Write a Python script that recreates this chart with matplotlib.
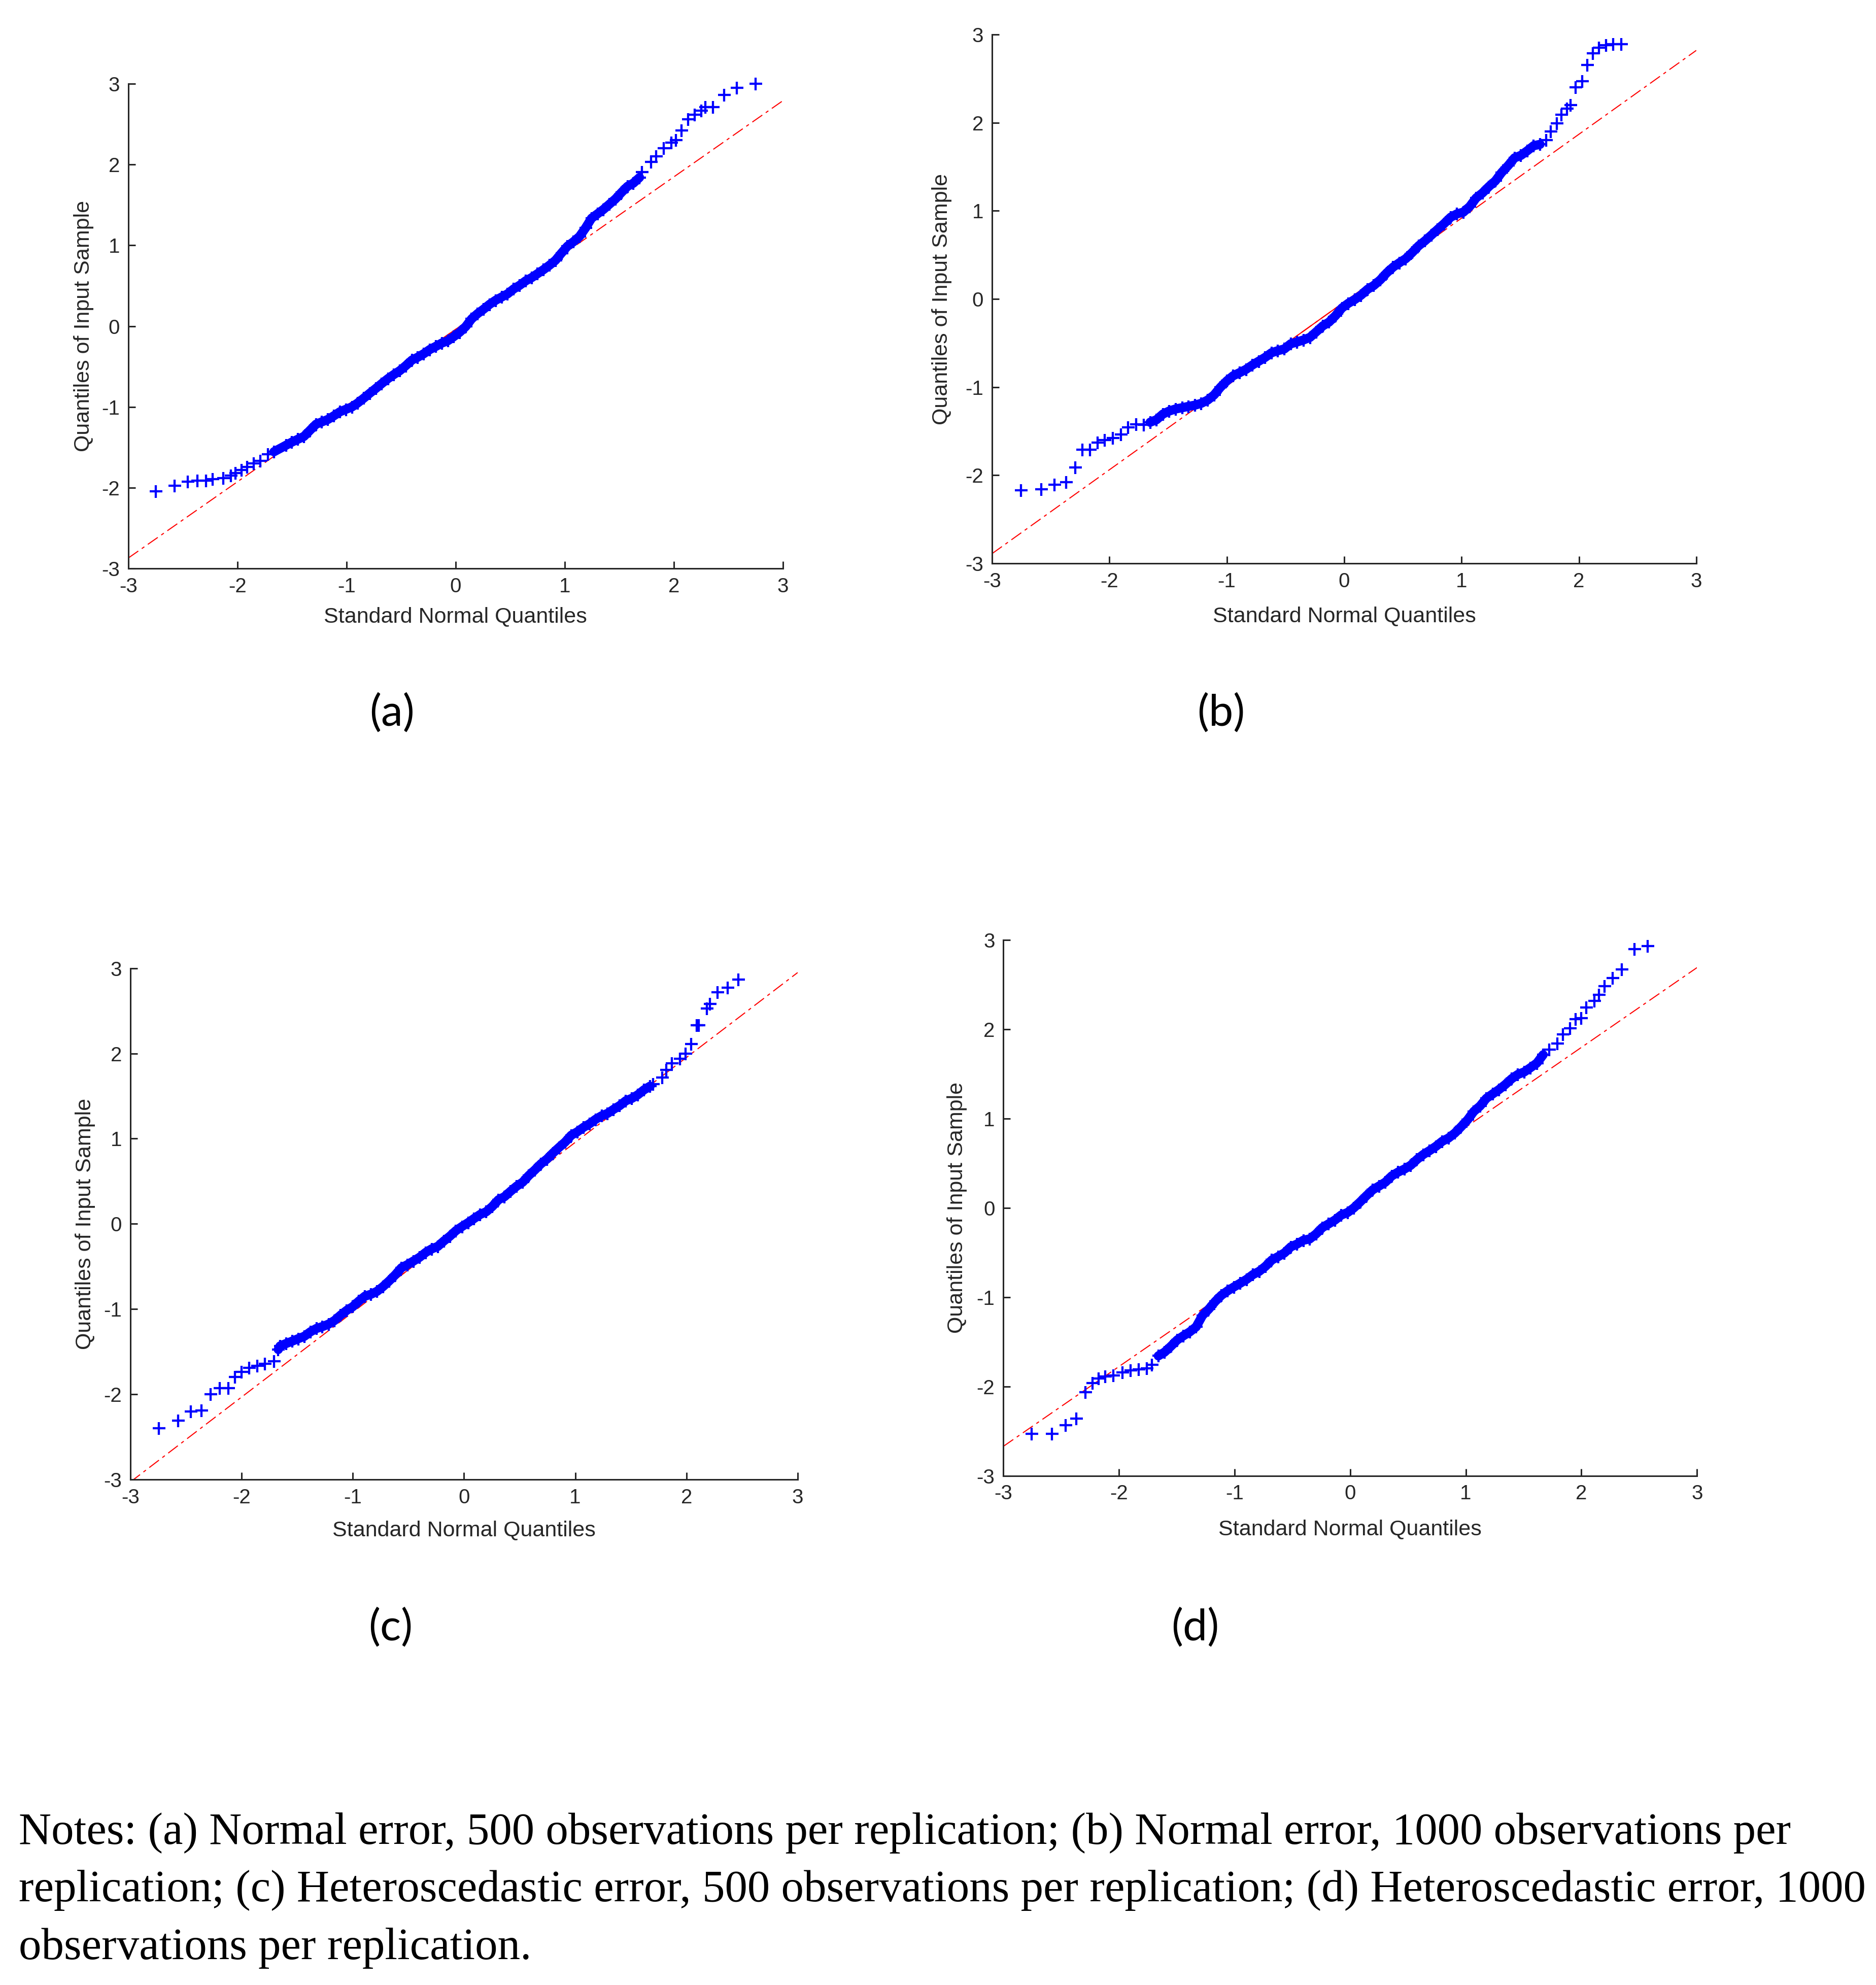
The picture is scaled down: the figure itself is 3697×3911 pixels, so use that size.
import matplotlib.pyplot as plt
import numpy as np

# (a) normal error, 500 obs per replication
a_x = [-2.748, -2.576, -2.457, -2.366, -2.29, -2.226, -2.13, -2.06, -2.02, -1.96, -1.91, -1.85, -1.79,
       -1.72, -1.665, -1.555, -1.50, -1.445, -1.39, -1.335, -1.28, -1.226, -1.17, -1.116, -1.06, -1.006,
       -0.95, -0.896, -0.84, -0.786, -0.73, -0.676, -0.62, -0.567, -0.51, -0.457, -0.40, -0.347, -0.29,
       -0.237, -0.18, -0.127, -0.07, -0.017, 0.038, 0.093, 0.147, 0.202, 0.257, 0.312, 0.367, 0.422,
       0.477, 0.532, 0.587, 0.642, 0.697, 0.752, 0.807, 0.862, 0.916, 0.971, 1.026, 1.081, 1.136, 1.191,
       1.246, 1.301, 1.356, 1.411, 1.466, 1.521, 1.576, 1.63, 1.686,
       1.71, 1.79, 1.84, 1.91, 1.98, 2.02, 2.07, 2.13, 2.19, 2.25, 2.29, 2.36, 2.46, 2.58, 2.75]
a_y = [-2.047, -1.974, -1.925, -1.915, -1.911, -1.896, -1.88, -1.85, -1.82, -1.78, -1.74, -1.70, -1.665,
       -1.585, -1.555, -1.475, -1.435, -1.40, -1.365, -1.29, -1.215, -1.185, -1.155, -1.11, -1.06, -1.03,
       -1.00, -0.95, -0.89, -0.83, -0.77, -0.71, -0.65, -0.60, -0.55, -0.49, -0.42, -0.385, -0.34,
       -0.29, -0.25, -0.21, -0.18, -0.13, -0.075, -0.005, 0.09, 0.155, 0.21, 0.27, 0.32, 0.36,
       0.40, 0.46, 0.505, 0.56, 0.60, 0.65, 0.70, 0.755, 0.815, 0.905, 0.99, 1.045, 1.11, 1.215,
       1.335, 1.39, 1.445, 1.51, 1.575, 1.655, 1.73, 1.77, 1.84,
       1.91, 2.03, 2.10, 2.20, 2.27, 2.30, 2.42, 2.56, 2.62, 2.67, 2.71, 2.71, 2.865, 2.95, 3.0]
a_ref = [-2.87, 2.79]   # reference line at x = -3 and x = 3

# (b) normal error, 1000 obs per replication
b_x = [-2.753, -2.58, -2.466, -2.37, -2.29, -2.23, -2.165, -2.10, -2.04, -1.97, -1.90, -1.84, -1.77,
       -1.707, -1.653, -1.598, -1.544, -1.489, -1.435, -1.38, -1.326, -1.271, -1.217, -1.162, -1.108,
       -1.054, -0.999, -0.945, -0.89, -0.836, -0.781, -0.727, -0.672, -0.618, -0.564, -0.509, -0.455,
       -0.40, -0.346, -0.291, -0.237, -0.182, -0.128, -0.074, -0.019, 0.035, 0.09, 0.144, 0.199, 0.253,
       0.308, 0.362, 0.417, 0.471, 0.525, 0.58, 0.634, 0.689, 0.743, 0.798, 0.852, 0.907, 0.961, 1.016,
       1.07, 1.124, 1.179, 1.233, 1.288, 1.342, 1.397, 1.451, 1.506, 1.56, 1.615, 1.669,
       1.72, 1.76, 1.81, 1.85, 1.90, 1.93, 1.97, 2.03, 2.07, 2.12, 2.17, 2.23, 2.29, 2.36]
b_y = [-2.17, -2.16, -2.105, -2.08, -1.91, -1.71, -1.71, -1.63, -1.60, -1.58, -1.54, -1.455, -1.42,
       -1.428, -1.399, -1.37, -1.306, -1.271, -1.248, -1.234, -1.219, -1.205, -1.184, -1.147, -1.089,
       -1.002, -0.929, -0.871, -0.836, -0.799, -0.749, -0.706, -0.662, -0.61, -0.587, -0.567, -0.509,
       -0.488, -0.465, -0.436, -0.372, -0.306, -0.262, -0.19, -0.103, -0.05, -0.007, 0.043, 0.109, 0.153,
       0.217, 0.295, 0.361, 0.411, 0.457, 0.527, 0.602, 0.66, 0.724, 0.791, 0.855, 0.927, 0.965, 0.985,
       1.049, 1.145, 1.203, 1.275, 1.339, 1.435, 1.513, 1.60, 1.629, 1.681, 1.739, 1.754,
       1.805, 1.90, 1.995, 2.09, 2.16, 2.20, 2.40, 2.47, 2.655, 2.785, 2.85, 2.88, 2.89, 2.89]
b_ref = [-2.89, 2.82]

# (c) heteroscedastic error, 500 obs per replication
c_x = [-2.745, -2.57, -2.455, -2.36, -2.28, -2.195, -2.12, -2.06, -2.00, -1.93, -1.86, -1.79, -1.71, -1.67,
       -1.654, -1.60, -1.545, -1.491, -1.436, -1.382, -1.327, -1.273, -1.218, -1.164, -1.109, -1.054,
       -1.0, -0.945, -0.891, -0.836, -0.782, -0.727, -0.673, -0.618, -0.563, -0.509, -0.454, -0.40,
       -0.345, -0.291, -0.236, -0.182, -0.127, -0.073, -0.018, 0.037, 0.091, 0.146, 0.20, 0.255, 0.309,
       0.364, 0.418, 0.473, 0.528, 0.582, 0.637, 0.691, 0.746, 0.80, 0.855, 0.909, 0.964, 1.018, 1.073,
       1.128, 1.182, 1.237, 1.291, 1.346, 1.40, 1.455, 1.509, 1.564, 1.618, 1.673,
       1.70, 1.78, 1.82, 1.87, 1.94, 1.99, 2.04, 2.09, 2.11, 2.185, 2.21, 2.28, 2.37, 2.465]
c_y = [-2.40, -2.31, -2.20, -2.19, -2.00, -1.93, -1.93, -1.80, -1.74, -1.69, -1.665, -1.64, -1.61, -1.475,
       -1.434, -1.405, -1.377, -1.348, -1.32, -1.268, -1.228, -1.206, -1.177, -1.134, -1.071, -1.015,
       -0.972, -0.906, -0.849, -0.826, -0.792, -0.735, -0.67, -0.598, -0.516, -0.479, -0.436, -0.393,
       -0.336, -0.294, -0.265, -0.202, -0.145, -0.08, -0.031, 0.014, 0.063, 0.111, 0.142, 0.205, 0.282,
       0.319, 0.382, 0.442, 0.49, 0.567, 0.633, 0.704, 0.761, 0.832, 0.898, 0.96, 1.04, 1.08, 1.132,
       1.174, 1.226, 1.268, 1.297, 1.345, 1.388, 1.445, 1.473, 1.516, 1.573, 1.616,
       1.64, 1.72, 1.81, 1.885, 1.94, 1.995, 2.11, 2.33, 2.33, 2.53, 2.58, 2.72, 2.77, 2.87]
c_ref = [-3.03, 2.95]

# (d) heteroscedastic error, 1000 obs per replication
d_x = [-2.755, -2.58, -2.46, -2.37, -2.29, -2.23, -2.175, -2.12, -2.05, -1.97, -1.90, -1.83, -1.76, -1.714,
       -1.659, -1.605, -1.55, -1.496, -1.441, -1.387, -1.332, -1.277, -1.223, -1.168, -1.114, -1.059,
       -1.005, -0.95, -0.895, -0.841, -0.786, -0.732, -0.677, -0.623, -0.568, -0.513, -0.459, -0.404,
       -0.35, -0.295, -0.241, -0.186, -0.131, -0.077, -0.022, 0.032, 0.087, 0.142, 0.196, 0.251, 0.305,
       0.36, 0.414, 0.469, 0.524, 0.578, 0.633, 0.687, 0.742, 0.796, 0.851, 0.906, 0.96, 1.015, 1.069,
       1.124, 1.178, 1.233, 1.288, 1.342, 1.397, 1.451, 1.506, 1.56, 1.615, 1.669,
       1.72, 1.79, 1.84, 1.90, 1.95, 2.00, 2.04, 2.11, 2.15, 2.20, 2.27, 2.35, 2.46, 2.575]
d_y = [-2.53, -2.53, -2.43, -2.36, -2.065, -1.96, -1.91, -1.89, -1.875, -1.84, -1.82, -1.81, -1.795, -1.756,
       -1.657, -1.615, -1.549, -1.479, -1.431, -1.388, -1.332, -1.204, -1.134, -1.049, -0.979, -0.928,
       -0.885, -0.843, -0.80, -0.747, -0.71, -0.654, -0.583, -0.546, -0.504, -0.436, -0.405, -0.362,
       -0.348, -0.292, -0.221, -0.179, -0.136, -0.08, -0.052, 0.0, 0.067, 0.138, 0.203, 0.245, 0.288,
       0.358, 0.40, 0.434, 0.477, 0.542, 0.598, 0.641, 0.689, 0.745, 0.782, 0.838, 0.909, 0.985, 1.079,
       1.141, 1.226, 1.276, 1.325, 1.381, 1.446, 1.494, 1.522, 1.57, 1.621, 1.714,
       1.77, 1.84, 1.94, 2.01, 2.11, 2.125, 2.245, 2.315, 2.385, 2.48, 2.575, 2.67, 2.895, 2.93]
d_ref = [-2.67, 2.69]

ticks = [-3, -2, -1, 0, 1, 2, 3]
tags = ['(a)', '(b)', '(c)', '(d)']
notes = ("Notes: (a) Normal error, 500 observations per replication; (b) Normal error, 1000 observations per\n"
         "replication; (c) Heteroscedastic error, 500 observations per replication; (d) Heteroscedastic error, 1000\n"
         "observations per replication.")

plt.rcParams['axes.unicode_minus'] = False
plt.rcParams['font.family'] = ['Liberation Sans', 'DejaVu Sans']
dark = '#262626'

fig = plt.figure(figsize=(36.97, 39.11), dpi=100)

panels = [
    ([0.0684, 0.7136, 0.3489, 0.2442], a_x, a_y, a_ref, (0.2089, 0.6408), -0.068),
    ([0.5288, 0.7162, 0.3754, 0.2664], b_x, b_y, b_ref, (0.6510, 0.6408), -0.071),
    ([0.0695, 0.2547, 0.3557, 0.2575], c_x, c_y, c_ref, (0.2083, 0.1800), -0.068),
    ([0.5348, 0.2565, 0.3698, 0.2700], d_x, d_y, d_ref, (0.6370, 0.1800), -0.067),
]

q1 = -0.6745
for (rect, xs, ys, ref, tagpos, ylab_x), tag in zip(panels, tags):
    ax = fig.add_axes(rect)
    xs = np.asarray(xs)
    ys = np.asarray(ys)
    # reference line: solid between quartiles, dash-dot extension
    ax.plot([-3, 3], ref, color='red', lw=1.5, linestyle=(0, (11.5, 4, 3, 4)), zorder=1)
    yq = np.interp([q1, -q1], [-3, 3], ref)
    ax.plot([q1, -q1], yq, color='red', lw=1.5, zorder=1)
    # the central markers overlap into a solid band
    dense = np.abs(xs) < 1.7
    ax.plot(xs[dense], ys[dense], '-', color='blue', lw=13, solid_joinstyle='round',
            solid_capstyle='round', zorder=2)
    ax.plot(xs, ys, '+', color='blue', ms=18, mew=3.1, zorder=3, clip_on=False)

    ax.set_xlim(-3, 3)
    ax.set_ylim(-3, 3)
    ax.set_xticks(ticks)
    ax.set_yticks(ticks)
    for side in ['top', 'right']:
        ax.spines[side].set_visible(False)
    for side in ['left', 'bottom']:
        ax.spines[side].set_color(dark)
        ax.spines[side].set_linewidth(2.2)
    ax.tick_params(direction='in', length=10, width=2.2, colors=dark, labelsize=29, pad=12)
    ax.set_xlabel('Standard Normal Quantiles', fontsize=31, color=dark)
    ax.set_ylabel('Quantiles of Input Sample', fontsize=31, color=dark)
    ax.xaxis.label.set_verticalalignment('center')
    ax.yaxis.label.set_verticalalignment('center')
    ax.xaxis.set_label_coords(0.5, -0.10)
    ax.yaxis.set_label_coords(ylab_x, 0.5)

    fig.text(tagpos[0], tagpos[1], tag, fontsize=62, family='Lato', ha='center', va='center')

fig.text(0.01, 0.0869, notes, fontsize=64, family='Liberation Serif', ha='left', va='top',
         linespacing=1.52)

fig.savefig('out.png', dpi=100)
